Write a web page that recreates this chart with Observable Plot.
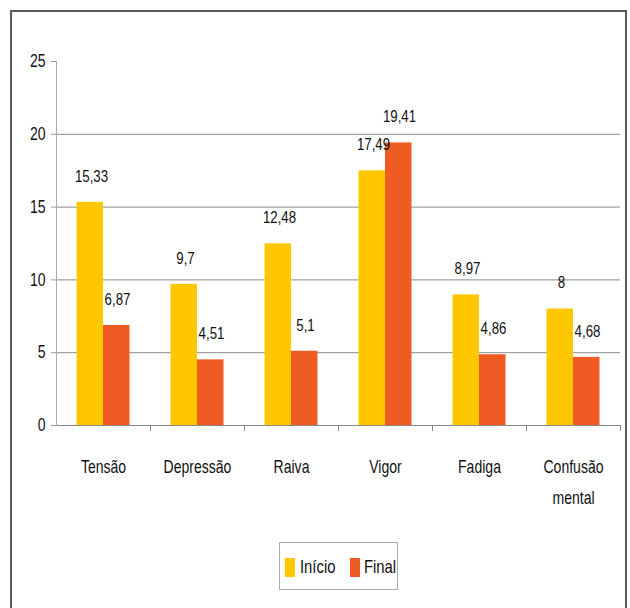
<!DOCTYPE html>
<html>
<head>
<meta charset="utf-8">
<script src="https://cdn.jsdelivr.net/npm/d3@7"></script>
<script src="https://cdn.jsdelivr.net/npm/@observablehq/plot@0.6"></script>
<style>
  html, body { margin: 0; padding: 0; background: #fff; }
  body { width: 630px; height: 608px; position: relative; overflow: hidden;
         font-family: "Liberation Sans", Arial, sans-serif; }
  #frame { position: absolute; left: 10px; top: 10px; width: 617px; height: 640px;
           border: 2px solid #5a5a5a; box-sizing: border-box; }
  #chart { position: absolute; left: 0; top: 0; }
  #legend { position: absolute; left: 279px; top: 542px; width: 119px; height: 48px;
            border: 1px solid #aaa; box-sizing: border-box; background: #fff; }
  .sw { position: absolute; width: 10px; height: 19px; top: 15px; }
  .lt { position: absolute; top: 12px; font-size: 19px; line-height: 24px; color: #111;
        transform: scaleX(0.78); transform-origin: left center; white-space: nowrap; }
</style>
</head>
<body>
<div id="frame"></div>
<div id="chart"></div>
<div id="legend"></div>
<script>
const categories = ["Tensão", "Depressão", "Raiva", "Vigor", "Fadiga", "Confusão mental"];
const series = ["Início", "Final"];
const inicio = [15.33, 9.7, 12.48, 17.49, 8.97, 8];
const final = [6.87, 4.51, 5.1, 19.41, 4.86, 4.68];
const yTicks = [0, 5, 10, 15, 20, 25];
const gridTicks = [5, 10, 15, 20];
const colors = ["#FFC700", "#EE5C24"];

const dataInicio = categories.map((c, i) => ({cat: c, serie: series[0], v: inicio[i]}));
const dataFinal = categories.map((c, i) => ({cat: c, serie: series[1], v: final[i]}));
const fmt = v => String(v).replace(".", ",");
const font = "'Liberation Sans', Arial, sans-serif";

const chart = Plot.plot({
  width: 630,
  height: 520,
  marginLeft: 56,
  marginRight: 10,
  marginTop: 61,
  marginBottom: 95,
  style: {fontFamily: font, fontSize: "17px", background: "transparent", color: "#111"},
  x: {domain: categories, padding: 0, label: null},
  y: {domain: [0, 25], label: null},
  marks: [
    Plot.gridY(gridTicks, {stroke: "#8a8a8a", strokeOpacity: 1}),
    Plot.barY(dataInicio, {x: "cat", y: "v", fill: colors[0], insetLeft: 20.5, insetRight: 47}),
    Plot.barY(dataFinal, {x: "cat", y: "v", fill: colors[1], insetLeft: 47, insetRight: 20.5}),
    Plot.text(dataInicio, {x: "cat", y: "v", text: d => fmt(d.v), dx: -12, dy: -26, fontSize: 17, fill: "#111"}),
    Plot.text(dataFinal, {x: "cat", y: "v", text: d => fmt(d.v), dx: 14, dy: -26, fontSize: 17, fill: "#111"}),
    Plot.ruleY([0], {stroke: "#888"}),
    Plot.frame({anchor: "left", stroke: "#aaa"}),
    Plot.axisY({ticks: yTicks, tickSize: 5, tickPadding: 6, fontSize: 18, stroke: "#999", fill: "#111", label: null}),
    Plot.axisX({tickSize: 0, tickPadding: 25, fontSize: 18, lineHeight: 1.75, fill: "#111",
                tickFormat: d => d.replace(" ", "\n"), label: null}),
    Plot.axisX({tickSize: 6, tickFormat: () => "", dx: 47, stroke: "#888", label: null})
  ]
});
// condense the glyphs horizontally, as in the reference (narrow type)
chart.querySelectorAll("text").forEach(t => {
  const tr = t.getAttribute("transform") || "";
  t.setAttribute("transform", tr + " scale(0.78,1)");
});
document.getElementById("chart").appendChild(chart);

const legend = document.getElementById("legend");
const swX = [5, 70], txX = [20, 84];
series.forEach((s, i) => {
  const sw = document.createElement("span");
  sw.className = "sw";
  sw.style.left = swX[i] + "px";
  sw.style.background = colors[i];
  legend.appendChild(sw);
  const t = document.createElement("span");
  t.className = "lt";
  t.style.left = txX[i] + "px";
  t.textContent = s;
  legend.appendChild(t);
});
</script>
</body>
</html>
